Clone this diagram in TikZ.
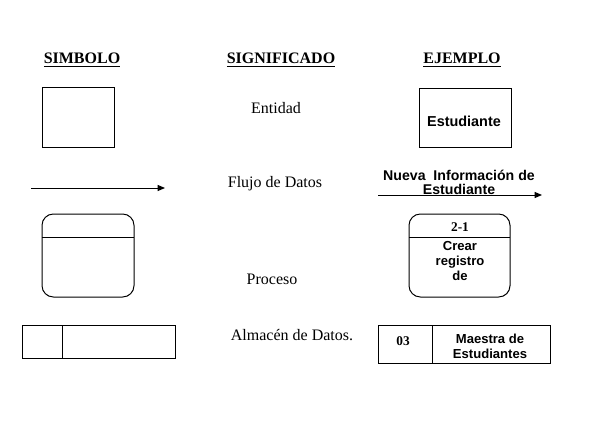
\documentclass[tikz,border=0pt]{standalone}
\usepackage{fontspec}
\setmainfont{Liberation Serif}
\setsansfont{Liberation Sans}
\usetikzlibrary{arrows.meta}
\tikzset{every picture/.style={line width=0.75pt}}
\tikzset{
  head/.style={font=\fontsize{12}{14}\selectfont\bfseries},
  meaning/.style={font=\fontsize{12}{14}\selectfont},
  sample/.style={font=\fontsize{10.3}{11}\selectfont\sffamily\bfseries, align=center, inner sep=0pt},
  code/.style={font=\fontsize{10}{12}\selectfont\bfseries},
  flow/.style={-{Triangle[length=5.5pt,width=4.5pt]}}
}

\begin{document}
\begin{tikzpicture}[x=0.75pt,y=0.75pt,yscale=-1,xscale=1]
\useasboundingbox (0,0) rectangle (591,442);

% Headings
\draw (82,60) node [head] (simbolo) {\underline{SIMBOLO}};
\draw (281,60) node [head] (significado) {\underline{SIGNIFICADO}};
\draw (462,60) node [head] (ejemplo) {\underline{EJEMPLO}};

%Shape: Rectangle (entidad)
\draw   (42,88) -- (114,88) -- (114,147) -- (42,147) -- cycle ;
% Text Node
\draw (276,108) node [meaning] (entidad) {Entidad};
%Shape: Rectangle (estudiante)
\draw   (419,89) -- (511,89) -- (511,147) -- (419,147) -- cycle ;
% Text Node
\draw (464,121) node [sample, font=\fontsize{10.8}{12}\selectfont\sffamily\bfseries] (estudiante) {Estudiante};

%Straight Lines (flujo)
\coordinate (flujoA) at (31,188);
\coordinate (flujoB) at (165,188);
\draw [flow] (flujoA) -- (flujoB) ;
% Text Node
\draw (275,184) node [meaning] (flujo) {Flujo de Datos};
%Straight Lines (nueva informacion)
\coordinate (nuevaA) at (378,195);
\coordinate (nuevaB) at (542,195);
\draw [flow] (nuevaA) -- (nuevaB) ;
% Text Node
\draw (459,182) node [sample, font=\fontsize{10.6}{10.5}\selectfont\sffamily\bfseries] (nueva) {Nueva\ \ Información de\\Estudiante};

%Shape: Rounded Rect (proceso)
\draw [rounded corners=8.5] (42,214) rectangle (134,297) ;
\draw   (42,237) -- (134,237) ;
% Text Node
\draw (272,279) node [meaning] (proceso) {Proceso};
%Shape: Rounded Rect (crear registro)
\draw [rounded corners=8.5] (409,214) rectangle (510,297) ;
\draw   (409,237) -- (510,237) ;
% Text Node
\draw (460,227) node [code] (id) {2-1};
% Text Node
\draw (460,261) node [sample, font=\fontsize{9.8}{11.2}\selectfont\sffamily\bfseries] (crear) {Crear\\registro\\de};

%Shape: Rectangle (almacen)
\draw   (22,325) -- (175,325) -- (175,358) -- (22,358) -- cycle ;
\draw   (62,325) -- (62,358) ;
% Text Node
\draw (292,335) node [meaning] (almacen) {Almacén de Datos.};
%Shape: Rectangle (maestra)
\draw   (378,325) -- (550,325) -- (550,363) -- (378,363) -- cycle ;
\draw   (432,325) -- (432,363) ;
% Text Node
\draw (403,341) node [code] (num) {03};
% Text Node
\draw (490,346) node [sample, font=\fontsize{9.8}{11.2}\selectfont\sffamily\bfseries] (maestra) {Maestra de\\Estudiantes};

\end{tikzpicture}
\end{document}
